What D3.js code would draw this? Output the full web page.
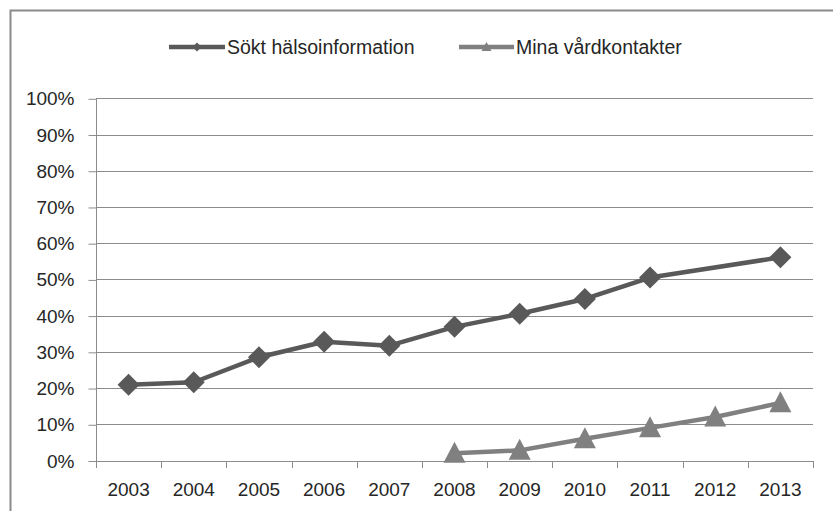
<!DOCTYPE html>
<html>
<head>
<meta charset="utf-8">
<script src="https://cdn.jsdelivr.net/npm/d3@7"></script>
<style>
  html, body { margin: 0; padding: 0; background: #fff; }
  svg { display: block; font-family: "Liberation Sans", Arial, sans-serif; }
</style>
</head>
<body>
<svg id="chart" width="833" height="511"></svg>
<script>
// Categories and series
const years = ["2003","2004","2005","2006","2007","2008","2009","2010","2011","2012","2013"];
const soktHalsoinformation = [20.9, 21.6, 28.5, 32.8, 31.7, 36.9, 40.5, 44.6, 50.5, null, 56.1];
const minaVardkontakter   = [null, null, null, null, null, 2.0, 2.8, 6.0, 9.0, 12.0, 15.9];
const yTicks = [0, 10, 20, 30, 40, 50, 60, 70, 80, 90, 100];
const seriesNames = ["Sökt hälsoinformation", "Mina vårdkontakter"];

const svg = d3.select("#chart");
const plot = { left: 96, right: 813, top: 98.3, bottom: 460.5 };
const textColor = "#262626";
const gridColor = "#8c8c8c";
const colSokt = "#595959";
const colMina = "#808080";

// Outer chart frame (right and bottom edges run past the canvas)
svg.append("path")
  .attr("d", "M10.5,520 V10.5 H840")
  .attr("fill", "none").attr("stroke", "#8a8a8a").attr("stroke-width", 2);

const x = d3.scaleBand().domain(years).range([plot.left, plot.right]).padding(0);
const y = d3.scaleLinear().domain([0, 100]).range([plot.bottom, plot.top]);

// Horizontal gridlines
svg.append("g").selectAll("line").data(yTicks.filter(t => t > 0)).join("line")
  .attr("x1", plot.left).attr("x2", plot.right)
  .attr("y1", d => Math.round(y(d)) + 0.5).attr("y2", d => Math.round(y(d)) + 0.5)
  .attr("stroke", gridColor).attr("stroke-width", 1);

// Y axis
const yAxis = d3.axisLeft(y).tickValues(yTicks).tickSize(8).tickPadding(14)
  .tickFormat(d => d + "%");
const gy = svg.append("g").attr("transform", `translate(${plot.left + 0.5},0.5)`).call(yAxis);
gy.select(".domain").attr("stroke", gridColor).attr("d", `M0,${y(100)}V${y(0)}`);
gy.selectAll(".tick line").attr("stroke", gridColor);
gy.selectAll(".tick text").attr("fill", textColor).style("font-size", "19px")
  .attr("font-family", "Liberation Sans, Arial, sans-serif");

// X axis with ticks between categories
const xAxisLine = svg.append("g");
xAxisLine.append("line")
  .attr("x1", plot.left).attr("x2", plot.right)
  .attr("y1", Math.round(plot.bottom) + 0.5).attr("y2", Math.round(plot.bottom) + 0.5)
  .attr("stroke", gridColor);
const boundaries = years.map(d => x(d) + x.bandwidth()).concat([x(years[0])]);
xAxisLine.selectAll("line.tk").data(boundaries).join("line").attr("class", "tk")
  .attr("x1", d => Math.round(d) + 0.5).attr("x2", d => Math.round(d) + 0.5)
  .attr("y1", Math.round(plot.bottom)).attr("y2", Math.round(plot.bottom) + 7)
  .attr("stroke", gridColor);
svg.append("g").selectAll("text").data(years).join("text")
  .attr("x", d => x(d) + x.bandwidth() / 2).attr("y", 496)
  .attr("text-anchor", "middle").attr("fill", textColor).style("font-size", "19px")
  .text(d => d);

// Series
const cx = d => x(d.year) + x.bandwidth() / 2;
const line = d3.line().x(cx).y(d => y(d.v));
function toPoints(vals) {
  return years.map((yr, i) => ({ year: yr, v: vals[i] })).filter(d => d.v != null);
}
const ptsSokt = toPoints(soktHalsoinformation);
const ptsMina = toPoints(minaVardkontakter);

const diamond = (s) => `M0,${-s}L${s},0L0,${s}L${-s},0Z`;
const triangle = (w, h) => `M0,${-h * 0.55}L${w / 2},${h * 0.45}L${-w / 2},${h * 0.45}Z`;

svg.append("path").datum(ptsSokt).attr("d", line)
  .attr("fill", "none").attr("stroke", colSokt).attr("stroke-width", 4.5)
  .attr("stroke-linejoin", "round");
svg.append("g").selectAll("path").data(ptsSokt).join("path")
  .attr("transform", d => `translate(${cx(d)},${y(d.v)})`)
  .attr("d", diamond(11)).attr("fill", colSokt);

svg.append("path").datum(ptsMina).attr("d", line)
  .attr("fill", "none").attr("stroke", colMina).attr("stroke-width", 4.5)
  .attr("stroke-linejoin", "round");
svg.append("g").selectAll("path").data(ptsMina).join("path")
  .attr("transform", d => `translate(${cx(d)},${y(d.v)})`)
  .attr("d", triangle(22, 21)).attr("fill", colMina);

// Legend
const legendY = 47;
const legend = [
  { name: seriesNames[0], x1: 169, x2: 225, tx: 227, color: colSokt, mark: diamond(4.5) },
  { name: seriesNames[1], x1: 459, x2: 514, tx: 516, color: colMina, mark: triangle(10, 9) }
];
const lg = svg.append("g").selectAll("g").data(legend).join("g");
lg.append("line")
  .attr("x1", d => d.x1).attr("x2", d => d.x2).attr("y1", legendY).attr("y2", legendY)
  .attr("stroke", d => d.color).attr("stroke-width", 4.5);
lg.append("path")
  .attr("transform", d => `translate(${(d.x1 + d.x2) / 2},${legendY})`)
  .attr("d", d => d.mark).attr("fill", d => d.color);
lg.append("text")
  .attr("x", d => d.tx).attr("y", legendY + 7)
  .attr("fill", textColor).style("font-size", "19.5px")
  .text(d => d.name);
</script>
</body>
</html>
